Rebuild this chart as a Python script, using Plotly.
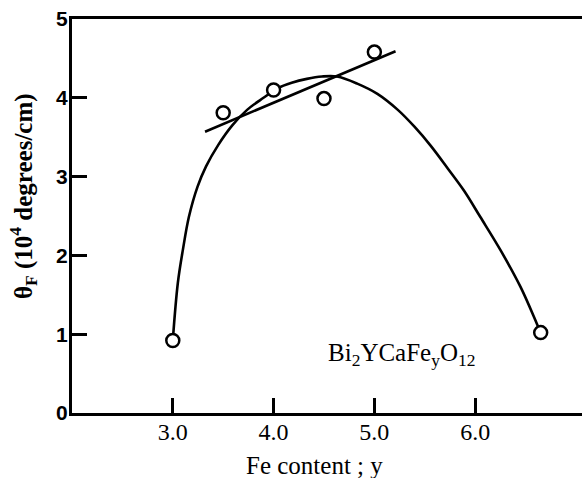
import plotly.graph_objects as go

# Measured data points (open circles)
fe_content = [3.0, 3.5, 4.0, 4.5, 5.0, 6.65]
theta_f = [0.92, 3.81, 4.10, 3.99, 4.58, 1.02]

# Hand-drawn smooth curve
curve_x = [3.0, 3.05, 3.10, 3.16, 3.245, 3.33, 3.45, 3.59, 3.74, 3.9, 4.04, 4.18,
           4.33, 4.48, 4.63, 4.83, 5.03, 5.23, 5.40, 5.56, 5.73, 5.89, 6.05,
           6.25, 6.45, 6.61, 6.65]
curve_y = [0.92, 1.65, 2.07, 2.49, 2.87, 3.13, 3.40, 3.65, 3.85, 4.0, 4.12, 4.19,
           4.24, 4.27, 4.27, 4.18, 4.05, 3.85, 3.63, 3.39, 3.10, 2.82, 2.49,
           2.07, 1.6, 1.14, 1.02]

# Straight fitted line
line_x = [3.32, 5.21]
line_y = [3.57, 4.59]

x_ticks = [3, 4, 5, 6]
x_tick_labels = ["3.0", "4.0", "5.0", "6.0"]
y_ticks = [0, 1, 2, 3, 4, 5]
y_tick_labels = ["0", "1", "2", "3", "4", "5"]

SERIF = "Liberation Serif, Times New Roman, serif"

W, H = 582, 478
L, R, T, B = 72, 0, 19, 65
pw, ph = W - L - R, H - T - B


def px_to_paper(px, py):
    return (px - L) / pw, (H - py - B) / ph


fig = go.Figure()
fig.add_trace(go.Scatter(x=curve_x, y=curve_y, mode="lines",
                         line=dict(color="black", width=2.6, shape="spline", smoothing=1.0),
                         hoverinfo="skip", showlegend=False))
fig.add_trace(go.Scatter(x=line_x, y=line_y, mode="lines",
                         line=dict(color="black", width=2.6),
                         hoverinfo="skip", showlegend=False))
fig.add_trace(go.Scatter(x=fe_content, y=theta_f, mode="markers",
                         marker=dict(symbol="circle", size=13, color="white",
                                     line=dict(color="black", width=2.5)),
                         showlegend=False))

fig.add_annotation(x=5.27, y=0.74, xref="x", yref="y",
                   text="Bi<sub>2</sub>YCaFe<sub>y</sub>O<sub>12</sub>",
                   showarrow=False, font=dict(family=SERIF, size=25, color="black"))

# Axis titles
xt = px_to_paper(314, 465)
fig.add_annotation(x=xt[0], y=xt[1], xref="paper", yref="paper",
                   xanchor="center", yanchor="middle",
                   text="Fe content ; y", showarrow=False,
                   font=dict(family=SERIF, size=25, color="black"))
yt = px_to_paper(23, 196)
fig.add_annotation(x=yt[0], y=yt[1], xref="paper", yref="paper",
                   xanchor="center", yanchor="middle",
                   text="<b>θ<sub>F</sub> (10<sup>4</sup> degrees/cm)</b>", textangle=-90,
                   showarrow=False, font=dict(family=SERIF, size=25, color="black"))

fig.update_layout(
    width=W, height=H,
    margin=dict(l=L, r=R, t=T, b=B, pad=0, autoexpand=False),
    paper_bgcolor="white", plot_bgcolor="white",
    xaxis=dict(range=[2.0, 7.06], tickvals=x_ticks, ticktext=x_tick_labels,
               automargin=False,
               showgrid=False, zeroline=False, showline=True, linecolor="black",
               linewidth=3, mirror=True, ticks="inside", ticklen=15, tickwidth=2.5,
               tickcolor="black", ticklabelstandoff=-5,
               tickfont=dict(family=SERIF, size=24, color="black")),
    yaxis=dict(range=[0, 5], tickvals=y_ticks, ticktext=y_tick_labels,
               automargin=False,
               showgrid=False, zeroline=False, showline=True, linecolor="black",
               linewidth=3, ticks="inside", ticklen=15, tickwidth=3,
               tickcolor="black", ticklabelstandoff=-3,
               tickfont=dict(family="Liberation Sans, Arial, sans-serif", size=21,
                             color="black", weight="bold")),
)

fig.write_html("out.html", config={"displayModeBar": False},
               post_script="document.body.style.margin='0';document.body.style.overflow='hidden';")
